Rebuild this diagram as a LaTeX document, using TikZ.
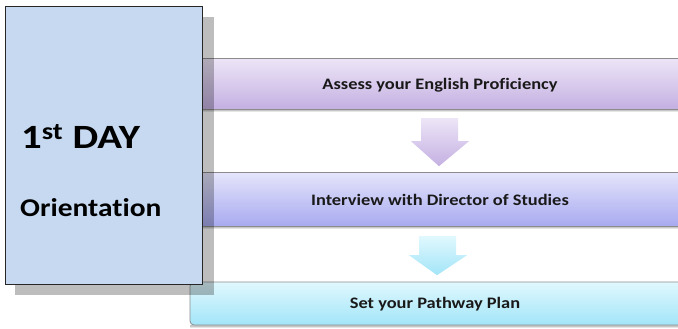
\documentclass[tikz,border=0pt]{standalone}
\usepackage{graphicx}
\usepackage{fontspec}
\setmainfont{Carlito}[Ligatures=NoCommon]
\usetikzlibrary{calc}
\definecolor{boxfill}{HTML}{C6D9F0}
\definecolor{aTop}{HTML}{EDE5F7}
\definecolor{aBot}{HTML}{C4B0E2}
\definecolor{bTop}{HTML}{E5E5FB}
\definecolor{bBot}{HTML}{A8AAF0}
\definecolor{cTop}{HTML}{E0F8FE}
\definecolor{cBot}{HTML}{A2E5F8}
\newcommand{\wide}[2][1.15]{\scalebox{#1}[1]{#2}}
\tikzset{
  bartext/.style={font=\bfseries\fontsize{16}{19}\selectfont, text=black!90, inner sep=0pt},
  flowarrow/.style={draw=none},
}
\begin{document}
\begin{tikzpicture}[x=1pt,y=-1pt]
\useasboundingbox (0,0) rectangle (678,329);
\begin{scope}
\clip (0,0) rectangle (678,329);
% bar bottom soft shadows
\foreach \yb in {109,226,325}{
  \fill[black!22] (190,\yb) rectangle (690,\yb+2.2);
  \fill[black!10] (190,\yb+2.2) rectangle (690,\yb+3.4);
}
% bars
\shade[top color=aTop, bottom color=aBot, draw=black!45, line width=0.8pt] (190,58.5) rectangle (690,109);
\node[inner sep=0pt, minimum width=500pt, minimum height=50.5pt] (bar1) at (440,83.75) {};
\shade[top color=bTop, bottom color=bBot, draw=black!45, line width=0.8pt] (190,172) rectangle (690,226);
\node[inner sep=0pt, minimum width=500pt, minimum height=54pt] (bar2) at (440,199) {};
\shade[top color=cTop, bottom color=cBot, draw=black!45, line width=0.8pt, rounded corners=4pt] (190,282) rectangle (690,325);
\node[inner sep=0pt, minimum width=500pt, minimum height=43pt] (bar3) at (440,303.5) {};
\end{scope}
% texts
\node[bartext] (t1) at (440,85) {\wide{Assess your English Proficiency}};
\node[bartext] (t2) at (440,200) {\wide{Interview with Director of Studies}};
\node[bartext] (t3) at (435,304) {\wide{Set your Pathway Plan}};
% block arrows
\shade[top color=aTop, bottom color=aBot, flowarrow]
  ($(bar1.south)+(-19,9)$) -- ++(37,0) -- ++(0,23) -- ++(11,0) -- ($(bar1.south)+(-1,57)$) -- ($(bar1.south)+(-29,32)$) -- ++(10,0) -- cycle;
\shade[top color=cTop, bottom color=cBot, flowarrow]
  ($(bar2.south)+(-21,10)$) -- ++(37,0) -- ++(0,19) -- ++(11,0) -- ($(bar2.south)+(-3,49)$) -- ($(bar2.south)+(-31,29)$) -- ++(10,0) -- cycle;
% shadow of day box
\fill[black, opacity=0.26] (15,17) rectangle (214,295);
% day box
\node[draw=black!85, line width=1pt, fill=boxfill, minimum width=197pt, minimum height=277pt, inner sep=0pt] (day) at (104,145.5) {};
\node[anchor=base west, inner sep=0pt, font=\bfseries\fontsize{34}{38}\selectfont] (d1) at (21,148.3) {\wide[1.2]{1\textsuperscript{st} DAY}};
\node[anchor=base west, inner sep=0pt, font=\bfseries\fontsize{25.6}{30}\selectfont] (d2) at (20,216.5) {\wide{Orientation}};
\end{tikzpicture}
\end{document}
